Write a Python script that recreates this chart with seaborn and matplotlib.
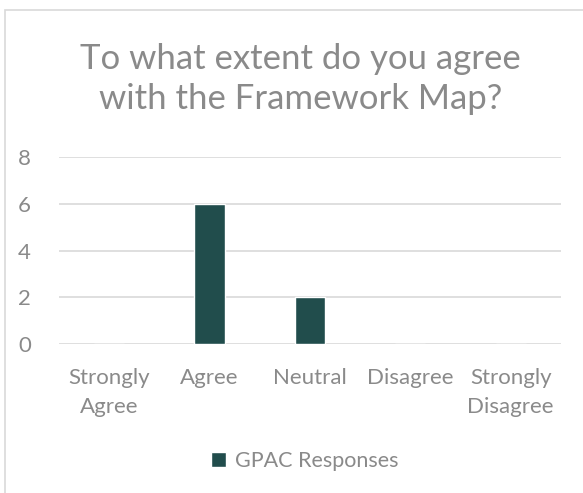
import matplotlib
matplotlib.use("Agg")
import matplotlib.pyplot as plt
import seaborn as sns
import pandas as pd
from matplotlib.patches import Rectangle

categories = ["Strongly\nAgree", "Agree", "Neutral", "Disagree", "Strongly\nDisagree"]
values = [0, 6, 2, 0, 0]
series_name = "GPAC Responses"
title = "To what extent do you agree\nwith the Framework Map?"
yticks = [0, 2, 4, 6, 8]

sns.set_theme(style="white")
plt.rcParams['font.family'] = ['Lato', 'DejaVu Sans']

TEXT = "#8A8A8A"
GRID = "#D9D9D9"
BAR = "#1A5453"

df = pd.DataFrame({"category": categories, "value": values, "series": series_name})

fig = plt.figure(figsize=(5.83, 4.93), dpi=100)
ax = fig.add_axes([0.101, 0.302, 0.861, 0.3795])

sns.barplot(data=df, x="category", y="value", hue="series", palette=[BAR],
            width=0.3, ax=ax, legend=True)

ax.set_ylim(0, 8)
ax.set_yticks(yticks)
ax.set_xlim(-0.5, 4.5)
for s in ax.spines.values():
    s.set_visible(False)
ax.yaxis.grid(True, color=GRID, linewidth=1.2)
ax.set_axisbelow(True)
ax.set_xlabel("")
ax.set_ylabel("")
ax.tick_params(axis="both", length=0, labelsize=16, labelcolor=TEXT)
ax.tick_params(axis="y", pad=20)
ax.tick_params(axis="x", pad=17)
for lab in ax.get_yticklabels():
    lab.set_horizontalalignment("right")
for lab in ax.get_xticklabels():
    lab.set_linespacing(1.55)

fig.text(0.515, 0.84, title, ha="center", va="center", fontsize=25,
         color=TEXT, linespacing=1.33)

leg = ax.legend(loc="center", bbox_to_anchor=(0.523, 0.065),
                bbox_transform=fig.transFigure, frameon=False, fontsize=15.5,
                handlelength=0.7, handleheight=0.7, handletextpad=0.4)
for t in leg.get_texts():
    t.set_color(TEXT)

# chart frame
fig.patches.append(Rectangle((5 / 583, -0.1), 1.2, 1 - 10 / 493 + 0.1,
                             transform=fig.transFigure, fill=False,
                             edgecolor=GRID, linewidth=1.2))

fig.savefig("out.png", dpi=100, facecolor="white")
